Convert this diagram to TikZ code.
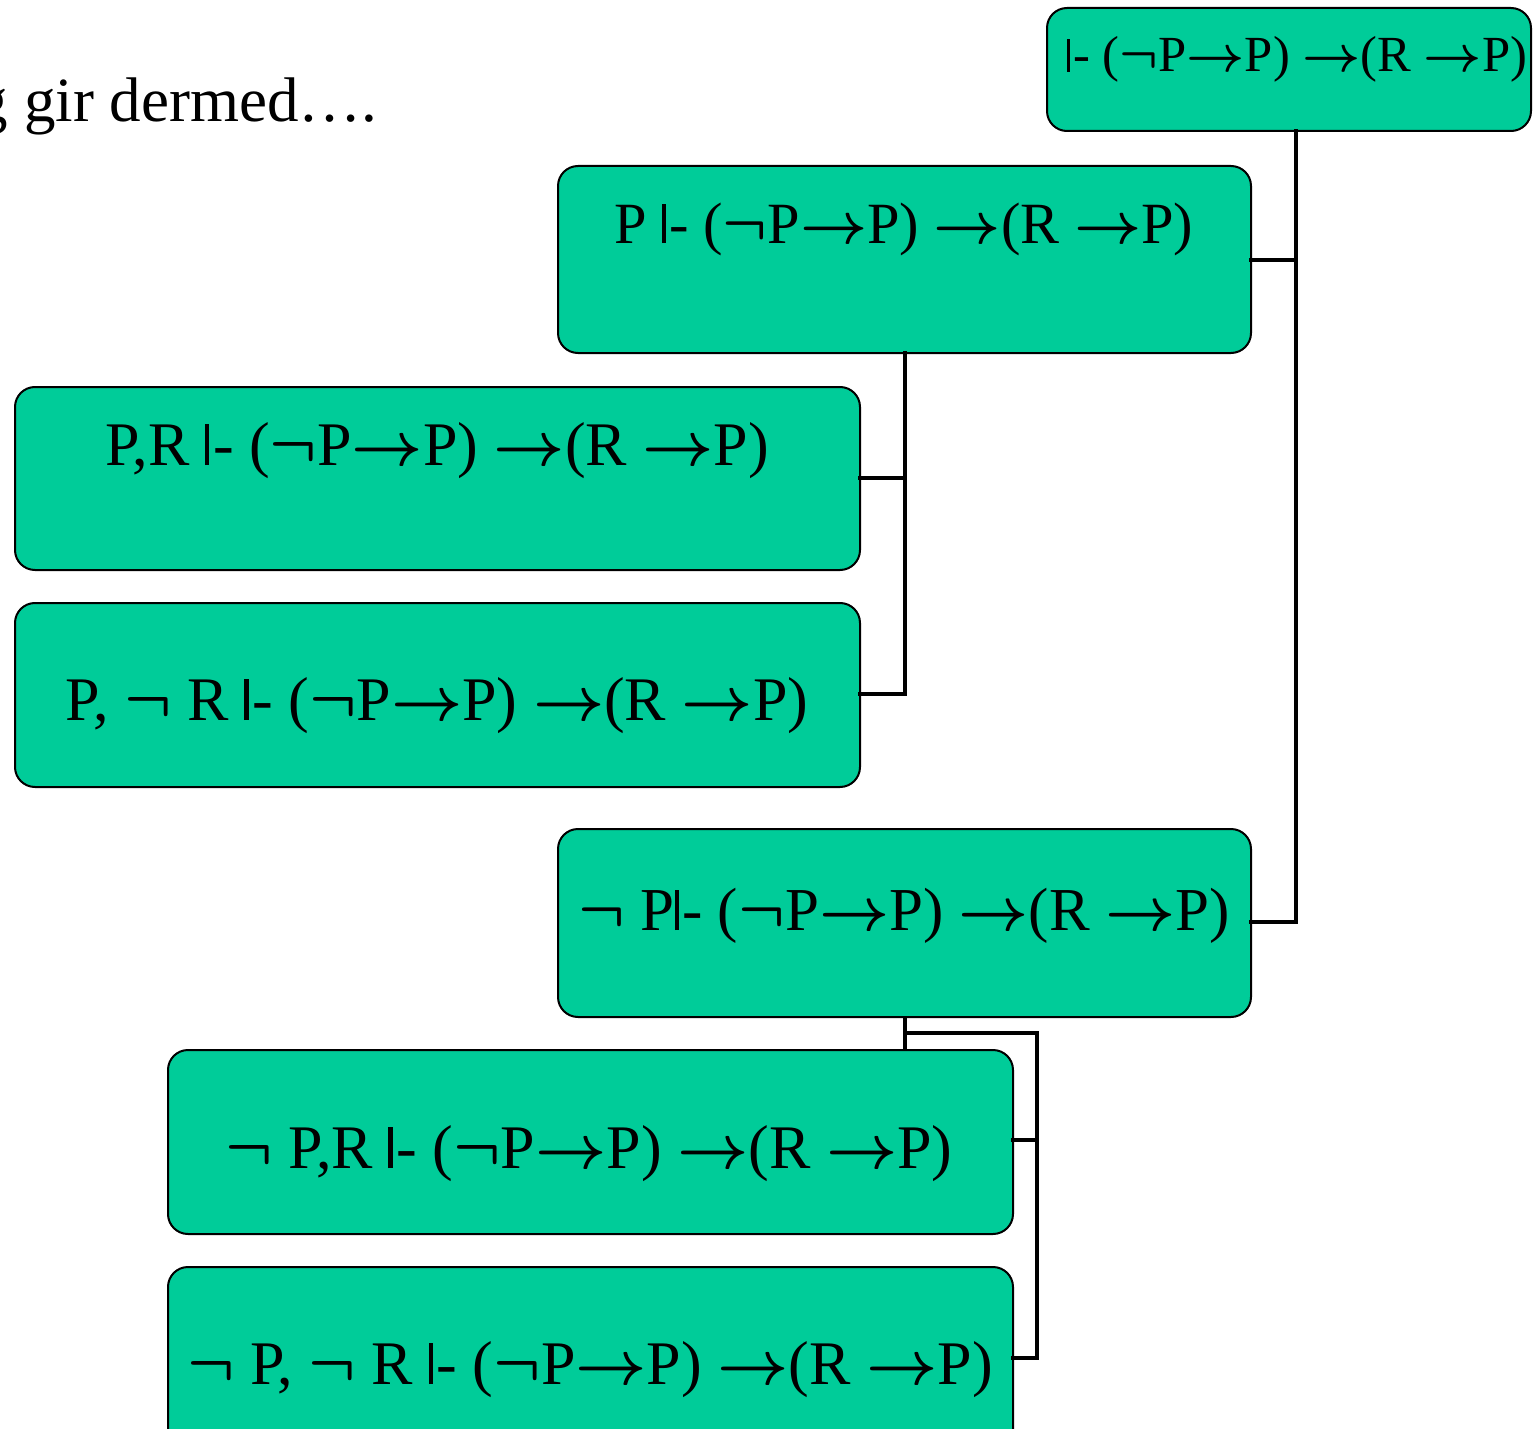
\RequirePackage{fix-cm}
\documentclass[tikz,border=0pt]{standalone}
\usepackage{fontspec}
\setmainfont{Liberation Serif}
\definecolor{boxgreen}{RGB}{0,204,153}
% logical symbols: long arrow, negation and turnstile
\newcommand{\arr}{{\boldmath$\rightarrow$}}
\newcommand{\nega}{{\boldmath$\neg$}}
\newcommand{\turn}{\rule{0.07em}{0.66em}\kern0.06em-}
\tikzset{
  sequent/.style={draw=black, line width=1pt, fill=boxgreen, rounded corners=10pt},
  label/.style={inner sep=0pt, anchor=base, font=\fontsize{31}{36}\selectfont},
  fs/.style={font=\fontsize{#1}{36}\selectfont},
  link/.style={draw=black, line width=2.4pt, line cap=rect}
}
\begin{document}
\begin{tikzpicture}[x=0.5pt, y=-0.5pt]
  \useasboundingbox (0,0) rectangle (1533,1429);
  \clip (0,0) rectangle (1533,1429);
  \fill[white] (0,0) rectangle (1533,1429);

  % heading fragment
  \node[inner sep=0pt, anchor=base east, font=\fontsize{31.5}{36}\selectfont] (head) at (378,122) {g gir dermed\dots.};

  % connector corners
  \coordinate (a1) at (1296,131);
  \coordinate (a2) at (1296,260);
  \coordinate (a3) at (1296,922);
  \coordinate (b1) at (905,353);
  \coordinate (b2) at (905,478);
  \coordinate (b3) at (905,694);
  \coordinate (e1) at (905,1017);
  \coordinate (e2) at (905,1050);
  \coordinate (e3) at (905,1033);
  \coordinate (e4) at (1037,1033);
  \coordinate (e5) at (1037,1140);
  \coordinate (e6) at (1037,1358);

  % connectors behind the boxes
  \draw[link] (e1) -- (e2);

  % boxes
  \path[sequent] (1047,8) rectangle (1531,131);
  \path[sequent] (558,166) rectangle (1251,353);
  \path[sequent] (15,387) rectangle (860,570);
  \path[sequent] (15,603) rectangle (860,787);
  \path[sequent] (558,829) rectangle (1251,1017);
  \path[sequent] (168,1050) rectangle (1013,1234);
  \path[sequent] (168,1267) rectangle (1013,1460);

  \coordinate (Bx) at (1251,260);
  \coordinate (Cx) at (860,478);
  \coordinate (Dx) at (860,694);
  \coordinate (Ex) at (1251,922);
  \coordinate (Fx) at (1013,1140);
  \coordinate (Gx) at (1013,1358);

  \draw[link] (a1) -- (a3) -- (Ex);
  \draw[link] (Bx) -- (a2);
  \draw[link] (b1) -- (b3) -- (Dx);
  \draw[link] (Cx) -- (b2);
  \draw[link] (e3) -- (e4) -- (e6) -- (Gx);
  \draw[link] (Fx) -- (e5);

  % sequents
  \node[label, fs=25.3] (A) at (1297,72) {\turn{} (\nega P\arr P) \arr(R \arr P)};
  \node[label, fs=29.2] (B) at (904,243) {P \turn{} (\nega P\arr P) \arr(R \arr P)};
  \node[label] (C) at (437,465) {P,R \turn{} (\nega P\arr P) \arr(R \arr P)};
  \node[label] (D) at (437,720) {P, \nega{} R \turn{} (\nega P\arr P) \arr(R \arr P)};
  \node[label, fs=30.5] (E) at (904,930) {\nega{} P\turn{} (\nega P\arr P) \arr(R \arr P)};
  \node[label] (F) at (589,1168) {\nega{} P,R \turn{} (\nega P\arr P) \arr(R \arr P)};
  \node[label] (G) at (590,1384) {\nega{} P, \nega{} R \turn{} (\nega P\arr P) \arr(R \arr P)};
\end{tikzpicture}
\end{document}
